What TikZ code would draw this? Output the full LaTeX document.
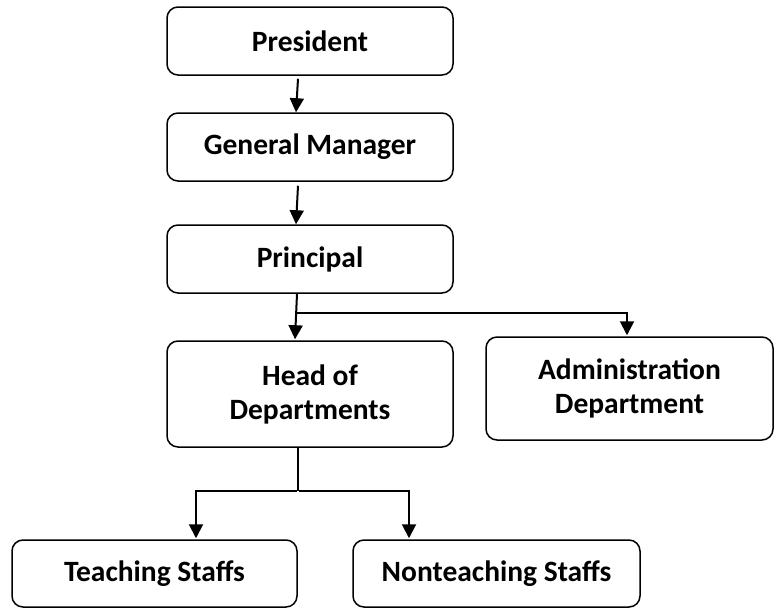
\documentclass[tikz,border=0pt]{standalone}
\usepackage{fontspec}
\setmainfont{Carlito}
\usetikzlibrary{arrows.meta}
\begin{document}
\begin{tikzpicture}[x=1pt,y=-1pt,
  box/.style={draw=black,line width=1.5pt,rounded corners=11pt,align=center,
    font=\fontsize{29.5}{34}\selectfont\bfseries,inner sep=0pt},
  conn/.style={draw=black,line width=2pt},
  arr/.style={conn,-{Triangle[width=14pt,length=14pt]}}]
\useasboundingbox (0,0) rectangle (778,608);
\node[box,minimum width=286pt,minimum height=68pt] (pres) at (310,41) {President};
\node[box,minimum width=286pt,minimum height=68pt] (gm) at (310,147) {General Manager};
\node[box,minimum width=286pt,minimum height=68pt] (prin) at (310,259) {Principal};
\node[box,minimum width=286pt,minimum height=106pt] (head) at (310,394) {Head of\\Departments};
\node[box,minimum width=287pt,minimum height=103pt] (admin) at (629.5,388.5) {Administration\\Department};
\node[box,minimum width=285pt,minimum height=67pt] (teach) at (154.5,573.5) {Teaching Staffs};
\node[box,minimum width=287pt,minimum height=67pt] (nont) at (496.5,573.5) {Nonteaching Staffs};
\draw[arr] ([xshift=-12pt,yshift=-3pt]pres.south) -- ([xshift=-14pt]gm.north);
\draw[arr] ([xshift=-12pt,yshift=-4pt]gm.south) -- ([xshift=-14pt]prin.north);
\draw[arr] ([xshift=-13pt]prin.south) -- ([xshift=-15pt,yshift=1pt]head.north);
\coordinate (j1) at (296.5,313);
\draw[arr] (j1) -| ([xshift=-2.5pt,yshift=1pt]admin.north);
\coordinate (j2) at (298,491);
\draw[conn] ([xshift=-12pt]head.south) -- (j2);
\draw[arr] ([xshift=-1pt]j2) -| ([xshift=41.5pt,yshift=1pt]teach.north);
\draw[arr] ([xshift=1pt]j2) -| ([xshift=-87.5pt,yshift=1pt]nont.north);
\end{tikzpicture}
\end{document}
